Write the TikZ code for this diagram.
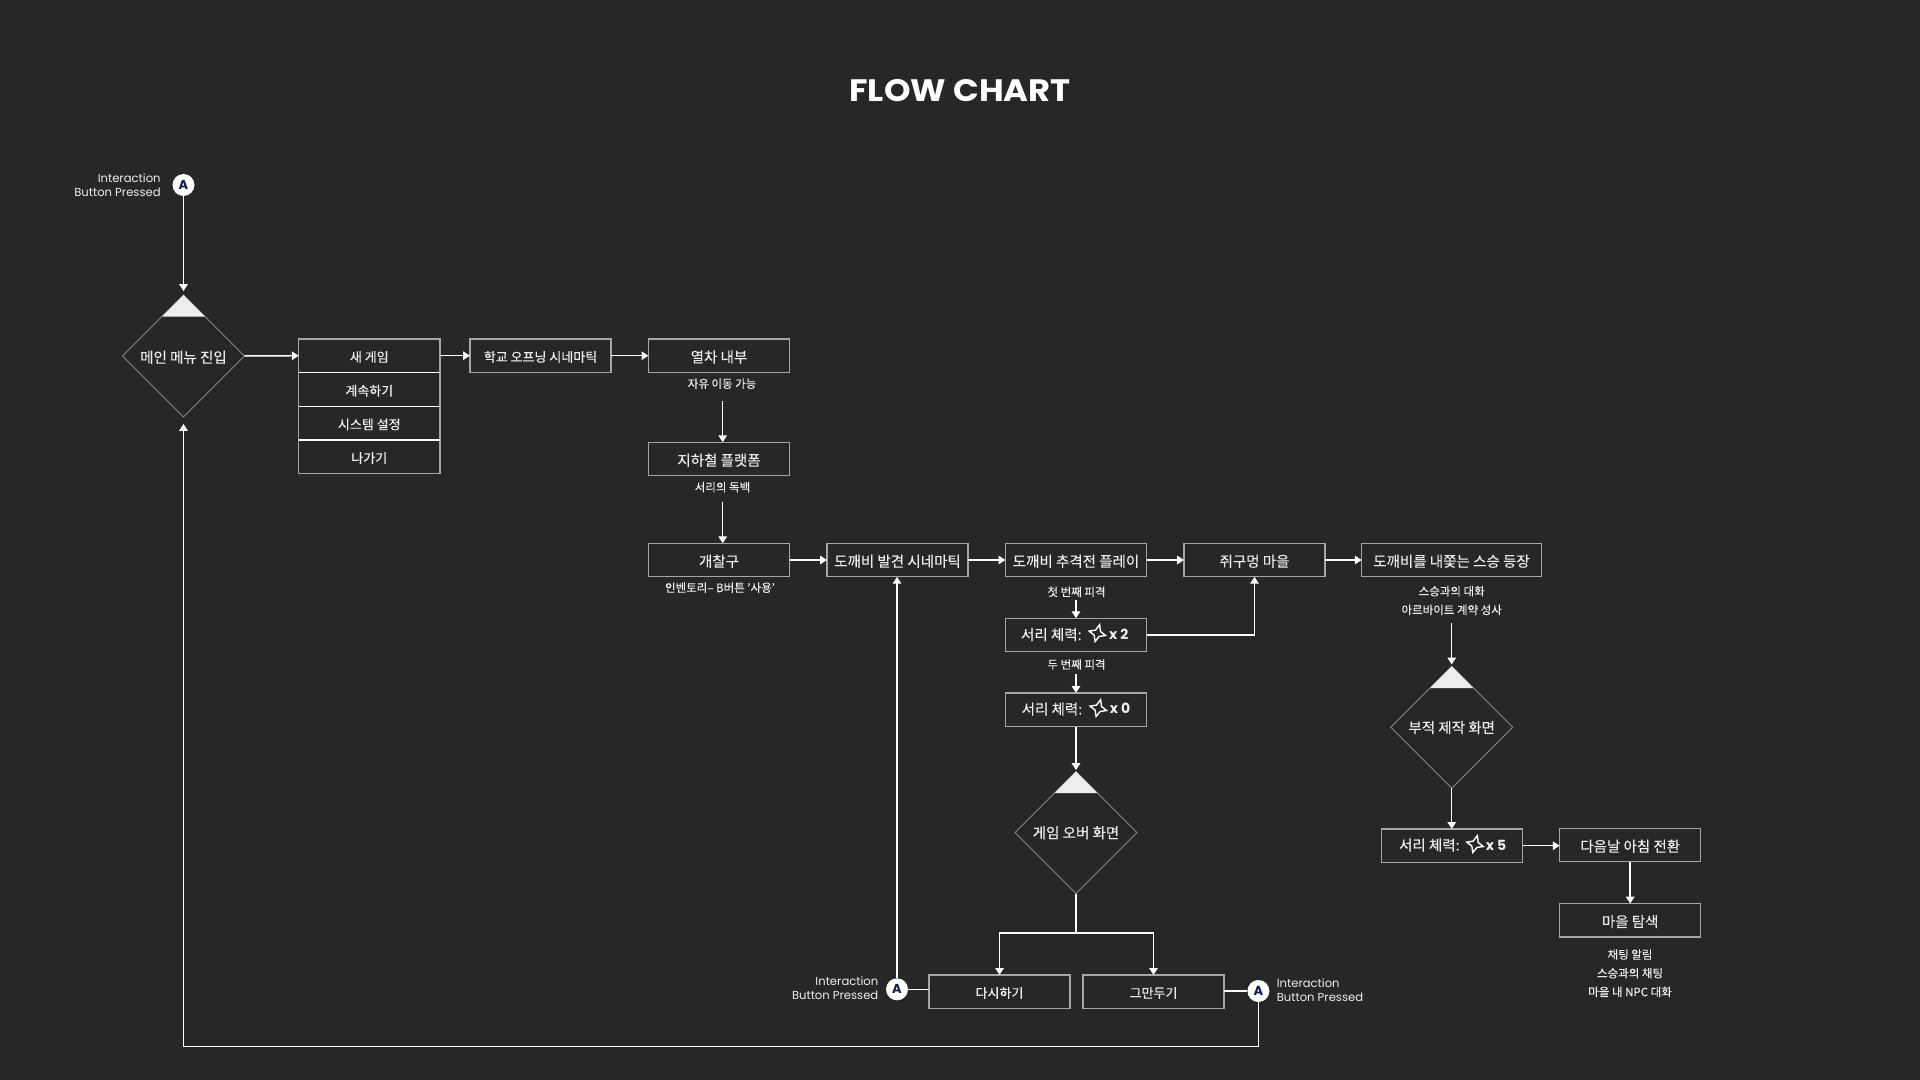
\documentclass[tikz,border=0pt]{standalone}
\usepackage{fontspec}
\usetikzlibrary{arrows.meta,shapes.geometric}
\setmainfont[FakeBold=0.25]{Noto Sans CJK KR}
\newfontfamily\latinfont{Poppins}
\newfontfamily\titlefont[FakeStretch=1.09]{Poppins}
\definecolor{bgc}{HTML}{262826}
\definecolor{txt}{HTML}{EDEDED}
\definecolor{edge}{HTML}{A6A6A6}
\definecolor{navy}{HTML}{101C48}
\tikzset{
  x=0.5pt,y=-0.5pt,
  flowtext/.style={inner sep=0pt,text=txt,font=\fontsize{7.25}{8}\selectfont,text height=6.7pt,text depth=0pt},
  flowbox/.style={draw=edge,line width=0.65pt,minimum width=70.6pt,minimum height=16.8pt,outer sep=0pt,flowtext},
  menubox/.style={flowbox,font=\fontsize{6.5}{8}\selectfont,text height=6.1pt},
  sublabel/.style={inner sep=0pt,text=txt,font=\fontsize{5.75}{7}\selectfont,text height=4.5pt,text depth=0pt},
  decide/.style={draw=edge!75!bgc,line width=0.45pt,shape=diamond,aspect=1,minimum width=61pt,minimum height=61pt,inner sep=0pt,outer sep=0pt},
  wedge/.style={fill=txt,draw=none},
  flow/.style={draw=white,line width=0.75pt,-{Triangle[length=3.4pt,width=4.2pt]}},
  plainline/.style={draw=white,line width=0.75pt},
  abtn/.style={circle,fill=white,draw=none,minimum size=11pt,inner sep=0pt,outer sep=0pt,text=navy,font=\latinfont\fontsize{6.5}{7}\bfseries\selectfont},
  btnlabel/.style={inner sep=0pt,text=txt,font=\latinfont\fontsize{5.8}{7}\selectfont},
  lifecount/.style={inner sep=0pt,text=txt,font=\latinfont\fontsize{7}{7}\bfseries\selectfont},
}
\newcommand{\lifestar}[2]{%
  \draw[white,line width=0.7pt,line join=miter,shift={(#1,#2)},rotate=-15]
   (0,-9) -- (2.6,-2.6) -- (8.5,0) -- (2.6,2.6) -- (0,8.5) -- (-2.6,2.6) -- (-8.5,0) -- (-2.6,-2.6) -- cycle;}
\begin{document}
\begin{tikzpicture}
\useasboundingbox[fill=bgc] (0,0) rectangle (1920,1080);
\node[inner sep=0pt,text=white,font=\titlefont\fontsize{15.5}{17}\bfseries\selectfont] (title) at (960,90.5) {FLOW CHART};

% top A
\node[abtn] (a1) at (183.5,185) {A};
\node[btnlabel,align=right,anchor=east] (l1) at (161,185) {Interaction\\Button Pressed};
% main menu
\node[decide] (d1) at (183.5,356) {};
\fill[wedge] (183.5,295) -- (205,316.7) -- (162,316.7) -- cycle;
\node[flowtext] (d1t) at (183.5,356) {메인 메뉴 진입};
\coordinate (d1in) at (183.5,291);
\draw[flow] (a1.south) -- (d1in);

\node[menubox] (m1) at (369.3,355.7) {새 게임};
\node[menubox] (m2) at (369.3,389.5) {계속하기};
\node[menubox] (m3) at (369.3,423.2) {시스템 설정};
\node[menubox] (m4) at (369.3,456.8) {나가기};
\draw[plainline] (m1.south west) -- (m1.south east);
\draw[plainline] (m2.south west) -- (m2.south east);
\draw[plainline] (m3.south west) -- (m3.south east);

\node[menubox] (b1) at (540.5,355.7) {학교 오프닝 시네마틱};
\node[flowbox] (b2) at (719,355.7) {열차 내부};
\node[sublabel] (s2) at (722,383.5) {자유 이동 가능};
\node[flowbox] (b3) at (719,459) {지하철 플랫폼};
\node[sublabel] (s3) at (722.5,487) {서리의 독백};
\node[flowbox] (b4) at (719,560) {개찰구};
\node[sublabel] (s4) at (720,587.5) {인벤토리– B버튼 \symbol{39}사용\symbol{39}};
\node[flowbox] (b5) at (897.5,560) {도깨비 발견 시네마틱};
\node[flowbox] (b6) at (1076,560) {도깨비 추격전 플레이};
\node[flowbox] (b7) at (1254.5,560) {쥐구멍 마을};
\node[flowbox,minimum width=89.8pt] (b8) at (1451.5,560) {도깨비를 내쫓는 스승 등장};
\node[sublabel] (s6) at (1076.5,591.7) {첫 번째 피격};
\node[flowbox] (h2) at (1076,635) {};
\node[flowtext] (h2t) at (1051.3,633.3) {서리 체력:};
\lifestar{1097.3}{633.3}
\node[lifecount] (h2n) at (1118.7,634.5) {x 2};
\node[sublabel] (s7) at (1076.5,664.3) {두 번째 피격};
\node[flowbox] (h0) at (1076,709.7) {};
\node[flowtext] (h0t) at (1052,707.8) {서리 체력:};
\lifestar{1098.3}{708.3}
\node[lifecount] (h0n) at (1120,708.7) {x 0};

\node[decide] (d2) at (1076,832.5) {};
\fill[wedge] (1076,771.5) -- (1097.5,793.2) -- (1054.5,793.2) -- cycle;
\node[flowtext] (d2t) at (1076,831.5) {게임 오버 화면};

\node[menubox] (r1) at (999.5,991.7) {다시하기};
\node[menubox] (r2) at (1153.5,991.7) {그만두기};
\node[abtn] (a2) at (897,989.3) {A};
\node[abtn] (a3) at (1258.4,991) {A};
\node[btnlabel,align=right,anchor=east] (l2) at (878.7,988) {Interaction\\Button Pressed};
\node[btnlabel,align=left,anchor=west] (l3) at (1276.4,990) {Interaction\\Button Pressed};

\node[sublabel] (s8a) at (1451.7,591) {스승과의 대화};
\node[sublabel] (s8b) at (1451.7,609.7) {아르바이트 계약 성사};
\node[decide] (d3) at (1451.7,727.3) {};
\fill[wedge] (1451.7,666.3) -- (1473.2,688) -- (1430.2,688) -- cycle;
\node[flowtext] (d3t) at (1451.7,726.3) {부적 제작 화면};
\node[flowbox] (h5) at (1452,845.7) {};
\node[flowtext] (h5t) at (1429.3,843.8) {서리 체력:};
\lifestar{1475}{844.3}
\node[lifecount] (h5n) at (1496,845.3) {x 5};
\node[flowbox] (b9) at (1630.2,845) {다음날 아침 전환};
\node[flowbox] (b10) at (1630.2,920.3) {마을 탐색};
\node[sublabel] (t1) at (1630,954.3) {채팅 알림};
\node[sublabel] (t2) at (1630,973) {스승과의 채팅};
\node[sublabel] (t3) at (1630,991.7) {마을 내 NPC 대화};

% connectors
\draw[flow] (d1.east) -- (m1.west);
\draw[flow] (m1.east) -- (b1.west);
\draw[flow] (b1.east) -- (b2.west);
\coordinate (c2) at (722.7,401);
\draw[flow] (c2) -- (c2 |- b3.north);
\coordinate (c3) at (722.7,501.7);
\draw[flow] (c3) -- (c3 |- b4.north);
\draw[flow] (b4.east) -- (b5.west);
\draw[flow] (b5.east) -- (b6.west);
\draw[flow] (b6.east) -- (b7.west);
\draw[flow] (b7.east) -- (b8.west);
\coordinate (c6) at (1076,600);
\draw[flow] (c6) -- (h2.north);
\coordinate (c7) at (1076,674);
\draw[flow] (c7) -- (h0.north);
\draw[flow] (h2.east) -| (b7.south);
\coordinate (c8) at (1076,770);
\draw[flow] (h0.south) -- (c8);
\coordinate (c9) at (1076,933);
\draw[plainline] (d2.south) -- (c9);
\draw[flow] (c9) -| (r1.north);
\draw[flow] (c9) -| (r2.north);
\draw[plainline] (r1.west |- a2) -- (a2.east);
\draw[flow] (a2.north) -- (a2.north |- b5.south);
\draw[plainline] (r2.east |- a3) -- (a3.west);
\coordinate (c10) at (1258.4,1046.7);
\coordinate (c11) at (183.5,424);
\draw[flow] (a3.south) -- (c10) -- (c10 -| c11) -- (c11);
\coordinate (c12) at (1451.7,623.3);
\coordinate (c13) at (1451.7,664.5);
\draw[flow] (c12) -- (c13);
\draw[flow] (d3.south) -- (d3.south |- h5.north);
\draw[flow] (h5.east) -- (b9.west |- h5);
\draw[flow] (b9.south) -- (b10.north);
\end{tikzpicture}
\end{document}
